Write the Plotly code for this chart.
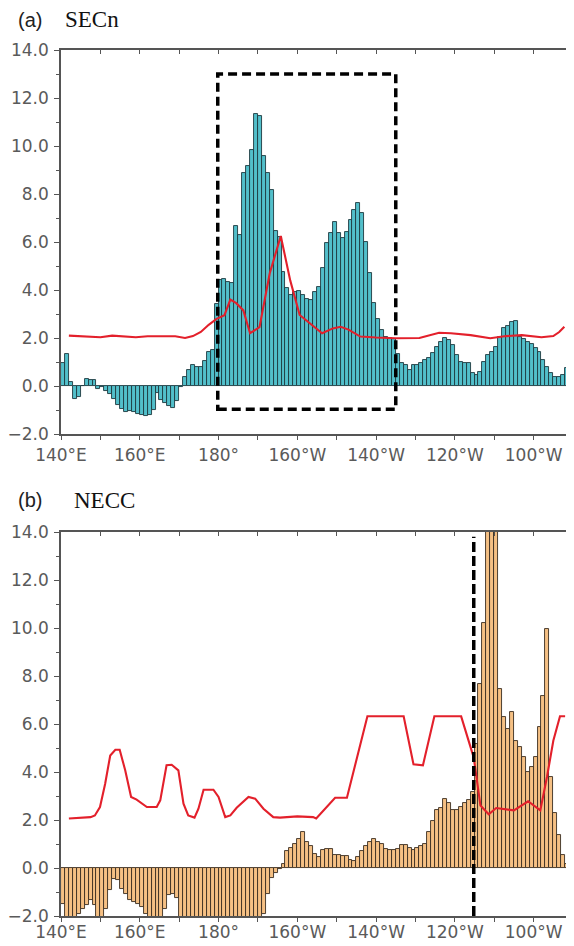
import numpy as np
import plotly.graph_objects as go

# ---------------- data ----------------
lon_bins = np.arange(140.5, 270, 1.0)  # 1-degree bins, 140E .. 90W (270)

secn_bars = [
    0.94, 1.33, 0.18, -0.56, -0.44, -0.02, 0.28, 0.27, 0.25, -0.12,      # 140-149
    -0.05, -0.2, -0.35, -0.55, -0.8, -0.95, -1.07, -1.05, -1.1, -1.15,   # 150-159
    -1.2, -1.23, -1.22, -1.0, -0.3, -0.58, -0.72, -0.82, -0.93, -0.62,   # 160-169
    -0.05, 0.39, 0.67, 0.88, 0.78, 0.8, 1.05, 1.4, 1.52, 3.4,            # 170-179
    4.4, 4.44, 4.35, 4.3, 6.67, 6.3, 8.86, 9.17, 9.83, 11.33,            # 180-189
    11.25, 9.6, 8.86, 8.17, 6.47, 6.22, 4.76, 4.07, 3.79, 3.93,          # 190-199
    3.97, 3.79, 3.61, 3.58, 3.93, 4.14, 4.9, 5.97, 6.39, 6.85,           # 200-209
    6.39, 6.15, 6.43, 6.92, 7.33, 7.61, 7.19, 6.01, 4.69, 3.44,          # 210-219
    2.78, 2.33, 2.03, 2.0, 1.95, 1.33, 0.97, 0.88, 0.67, 0.88,           # 220-229
    0.88, 0.97, 1.08, 1.15, 1.36, 1.64, 1.85, 1.99, 1.92, 1.71,          # 230-239
    1.29, 1.01, 0.94, 0.94, 0.53, 0.46, 0.6, 1.01, 1.29, 1.43,           # 240-249
    1.64, 2.06, 2.4, 2.5, 2.65, 2.72, 2.05, 1.95, 1.85, 1.75,            # 250-259
    1.6, 1.4, 1.1, 0.8, 0.55, 0.38, 0.36, 0.45, 0.75, 1.0,               # 260-269
]

necc_bars = [
    -1.49, -2.5, -2.5, -2.5, -1.9, -1.7, -1.55, -1.35, -1.55, -2.5,      # 140-149
    -2.5, -1.7, -0.93, -0.44, -0.51, -0.89, -1.07, -1.32, -1.42, -1.51,  # 150-159
    -1.62, -1.9, -2.5, -2.5, -2.5, -2.5, -1.7, -1.14, -1.07, -1.24,      # 160-169
    -2.5, -2.5, -2.5, -2.5, -2.5, -2.5, -2.5, -2.5, -2.5, -2.5,          # 170-179
    -2.5, -2.5, -2.5, -2.5, -2.5, -2.5, -2.5, -2.5, -2.5, -2.5,          # 180-189
    -2.5, -1.9, -1.07, -0.4, -0.22, -0.05, 0.15, 0.72, 0.82, 1.0,        # 190-199
    1.2, 1.5, 1.08, 0.9, 0.6, 0.46, 0.76, 0.8, 0.78, 0.55,               # 200-209
    0.56, 0.5, 0.49, 0.32, 0.28, 0.45, 0.7, 0.9, 1.1, 1.22,              # 210-219
    1.1, 0.98, 0.8, 0.74, 0.74, 0.8, 0.95, 0.95, 0.85, 0.74,             # 220-229
    0.85, 0.92, 1.01, 1.5, 1.96, 2.43, 2.5, 2.89, 2.7, 2.4,              # 230-239
    2.42, 2.55, 2.7, 2.85, 3.15, 5.15, 7.68, 10.2, 16.0, 17.0,           # 240-249
    16.0, 7.47, 6.29, 5.8, 6.5, 5.3, 5.04, 4.63, 4.0, 4.2,               # 250-259
    4.63, 5.88, 7.15, 9.97, 3.8, 2.29, 1.36, 0.53, 0.18, -0.07,          # 260-269
]

secn_line_lon = [142, 145, 148, 150, 153, 156, 159, 162, 166, 169, 171.5, 173.5,
                 175.5, 177.5, 179.5, 181.5, 183, 184.5, 186.3, 188, 190.4, 193,
                 195.8, 198.2, 200.6, 203.3, 206.3, 209, 211, 213, 216, 220, 225,
                 231, 236, 239, 244, 249, 253, 257, 262, 265, 266.5, 267.8]
secn_line_val = [2.1, 2.08, 2.05, 2.03, 2.1, 2.05, 2.03, 2.07, 2.07, 2.07, 2.0, 2.08,
                 2.25, 2.55, 2.8, 2.95, 3.6, 3.45, 3.15, 2.2, 2.45, 4.7,
                 6.25, 4.4, 2.96, 2.6, 2.2, 2.4, 2.47, 2.35, 2.06, 2.02, 1.99,
                 2.0, 2.22, 2.2, 2.12, 1.99, 2.08, 2.12, 2.03, 2.08, 2.25, 2.47]

necc_line_lon = [142, 145, 147.5, 148.6, 149.9, 151.2, 152.5, 153.8, 154.9, 156.3,
                 157.8, 159.2, 161.8, 164.3, 165.2, 166.8, 168.1, 169.8, 171.1,
                 172.3, 173.9, 174.9, 176.2, 178.7, 180, 181.7, 183, 184.6, 187.6,
                 189.3, 191.4, 193.9, 195.6, 200, 204, 204.8, 209.6, 212.6, 217.8,
                 227, 229.5, 231.9, 234.8, 241.6, 244.8, 246.5, 248.6, 250.5, 252,
                 255, 258.6, 261.7, 263.4, 265, 266.7, 268]
necc_line_val = [2.06, 2.1, 2.12, 2.19, 2.54, 3.5, 4.69, 4.93, 4.93, 4.07,
                 2.96, 2.85, 2.54, 2.54, 2.82, 4.28, 4.3, 4.07, 2.68,
                 2.19, 2.1, 2.47, 3.26, 3.26, 2.96, 2.12, 2.19, 2.51, 2.96,
                 2.89, 2.47, 2.12, 2.1, 2.15, 2.12, 2.06, 2.93, 2.93, 6.32,
                 6.32, 4.32, 4.28, 6.32, 6.32, 4.6, 2.6, 2.24, 2.5, 2.47,
                 2.4, 2.78, 2.4, 3.8, 5.3, 6.32, 6.32]

x_tickvals = [140, 160, 180, 200, 220, 240, 260]
x_ticktext = ["140°E", "160°E", "180°", "160°W", "140°W", "120°W", "100°W"]
x_minor = [150, 170, 190, 210, 230, 250]
y_tickvals = [-2, 0, 2, 4, 6, 8, 10, 12, 14]
y_minor = [-1, 1, 3, 5, 7, 9, 11, 13]

box_a = dict(x0=179.8, x1=225.0, y0=-0.97, y1=13.0)
vline_b = dict(x=244.8, y0=-2.0, y1=13.8)

# ---------------- layout geometry ----------------
# the page body has an 8px margin, so the figure is drawn 8px in from the window edge
OFF = 8
W, H = 574 - OFF, 946 - OFF
ML, MR, MT, MB = 61 - OFF, 1, 50 - OFF, 30
PW, PH = W - ML - MR, H - MT - MB


def pxx(x):  # window pixel -> paper x
    return (x - OFF - ML) / PW


def pyy(y):  # window pixel -> paper y
    return 1 - (y - OFF - MT) / PH


AX = "#555555"
XFONT = dict(family="DejaVu Sans", size=17, color="#5a5a5a")
YFONT = dict(family="DejaVu Sans", size=17, color="#5a5a5a")

fig = go.Figure()

fig.add_trace(go.Bar(x=lon_bins, y=secn_bars, width=1.0,
                     marker=dict(color="#52bfca", line=dict(color="#1e3a3f", width=0.9)),
                     xaxis="x", yaxis="y", showlegend=False))
fig.add_trace(go.Scatter(x=secn_line_lon, y=secn_line_val, mode="lines",
                         line=dict(color="#e3202b", width=2.1),
                         xaxis="x", yaxis="y", showlegend=False))
fig.add_trace(go.Bar(x=lon_bins, y=necc_bars, width=1.0,
                     marker=dict(color="#f5c084", line=dict(color="#3a2c20", width=0.9)),
                     xaxis="x2", yaxis="y2", showlegend=False))
fig.add_trace(go.Scatter(x=necc_line_lon, y=necc_line_val, mode="lines",
                         line=dict(color="#e3202b", width=2.1),
                         xaxis="x2", yaxis="y2", showlegend=False))
# empty traces so the top tick axes exist
fig.add_trace(go.Scatter(x=[], y=[], xaxis="x3", yaxis="y", showlegend=False))
fig.add_trace(go.Scatter(x=[], y=[], xaxis="x4", yaxis="y2", showlegend=False))

dom_a = [pyy(434), 1.0]
dom_b = [0.0, pyy(532)]


def xaxis(anchor, standoff):
    return dict(range=[140, 270], tickmode="array", tickvals=x_tickvals, ticktext=x_ticktext,
                ticks="outside", ticklen=4, tickwidth=1, tickcolor=AX,
                minor=dict(tickmode="array", tickvals=x_minor, ticks="outside", ticklen=4,
                           tickwidth=1, tickcolor=AX, showgrid=False),
                showline=True, linecolor=AX, linewidth=1.5, mirror=True,
                showgrid=False, zeroline=False, tickfont=XFONT, automargin=False,
                ticklabelstandoff=standoff, anchor=anchor, domain=[0, 1], fixedrange=True)


def yaxis(anchor, dom):
    return dict(range=[-2, 14], tickmode="array", tickvals=y_tickvals, tickformat=".1f",
                ticks="outside", ticklen=5, tickwidth=1, tickcolor=AX,
                minor=dict(tickmode="array", tickvals=y_minor, ticks="outside", ticklen=3,
                           tickwidth=1, tickcolor=AX, showgrid=False),
                showline=True, linecolor=AX, linewidth=1.5, mirror="ticks",
                showgrid=False, zeroline=False, tickfont=YFONT, automargin=False,
                ticklabelstandoff=2, anchor=anchor, domain=dom, fixedrange=True)


def topaxis(over, anchor):
    return dict(overlaying=over, anchor=anchor, side="top", range=[140, 270],
                tickmode="array", tickvals=list(range(150, 270, 10)),
                ticks="inside", ticklen=4, tickwidth=1, tickcolor=AX, automargin=False,
                showticklabels=False, showline=False, showgrid=False, zeroline=False)


shapes = [
    dict(type="rect", xref="x", yref="y", **box_a,
         line=dict(color="black", width=3.5, dash="9px,5px"), fillcolor="rgba(0,0,0,0)"),
    dict(type="line", xref="x2", yref="y2", x0=vline_b["x"], x1=vline_b["x"],
         y0=vline_b["y0"], y1=vline_b["y1"],
         line=dict(color="black", width=3.5, dash="10px,4px")),
]

annotations = [
    dict(text="(a)", x=pxx(30), y=pyy(20), xref="paper", yref="paper",
         xanchor="center", yanchor="middle", showarrow=False,
         font=dict(family="Liberation Sans", size=20, color="#222222")),
    dict(text="SECn", x=pxx(63), y=pyy(20), xref="paper", yref="paper",
         xanchor="left", yanchor="middle", showarrow=False,
         font=dict(family="Liberation Serif", size=23, color="#111111")),
    dict(text="(b)", x=pxx(30), y=pyy(500), xref="paper", yref="paper",
         xanchor="center", yanchor="middle", showarrow=False,
         font=dict(family="Liberation Sans", size=20, color="#222222")),
    dict(text="NECC", x=pxx(72), y=pyy(500), xref="paper", yref="paper",
         xanchor="left", yanchor="middle", showarrow=False,
         font=dict(family="Liberation Serif", size=23, color="#111111")),
]

fig.update_layout(
    width=W, height=H, autosize=False,
    margin=dict(l=ML, r=MR, t=MT, b=MB, pad=0, autoexpand=False),
    paper_bgcolor="white", plot_bgcolor="white",
    bargap=0, barmode="overlay", showlegend=False,
    xaxis=xaxis("y", 1), yaxis=yaxis("x", dom_a),
    xaxis2=xaxis("y2", -4), yaxis2=yaxis("x2", dom_b),
    xaxis3=topaxis("x", "y"), xaxis4=topaxis("x2", "y2"),
    shapes=shapes, annotations=annotations,
)

fig.write_html("out.html")
